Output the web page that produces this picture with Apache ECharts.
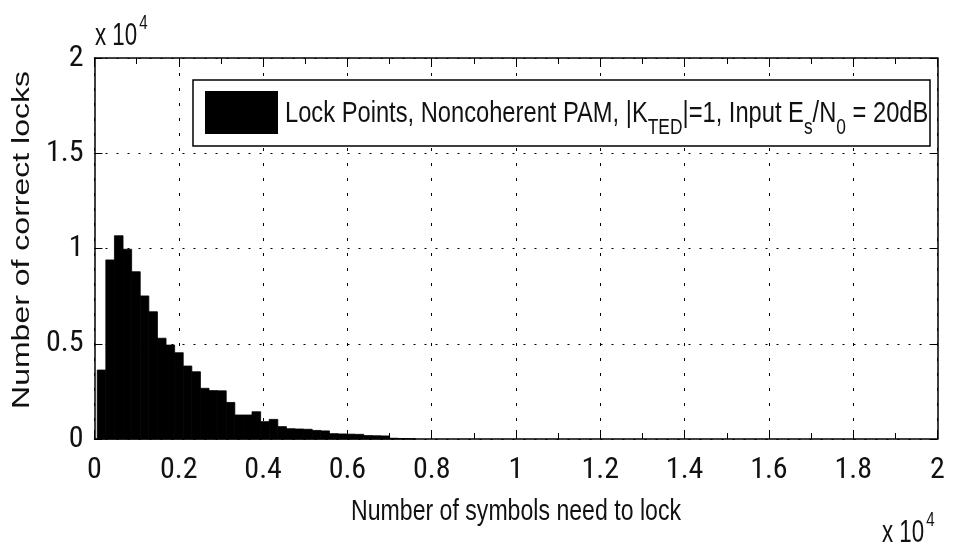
<!DOCTYPE html>
<html>
<head>
<meta charset="utf-8">
<title>Lock points histogram</title>
<script src="https://cdn.jsdelivr.net/npm/echarts@6/dist/echarts.min.js"></script>
<style>
  html, body { margin: 0; padding: 0; background: #ffffff; }
  #chart { width: 959px; height: 547px; }
</style>
</head>
<body>
<div id="chart"></div>
<script>
// Histogram of symbols needed to reach lock (counts per bin)
const binStart = 65;      // left edge of the first bin, in symbols
const binWidth = 204;     // bin width, in symbols
const lockCounts = [
  3620, 9400, 10670, 9960, 8780, 7510, 6680, 5290, 4930, 4530,
  3830, 3530, 2660, 2540, 2530, 1920, 1260, 1260, 1430, 910,
  1030, 650, 540, 525, 510, 450, 425, 280, 265, 255,
  245, 180, 170, 160, 40, 25, 15
];
const xTickLabels = ['0', '0.2', '0.4', '0.6', '0.8', '1', '1.2', '1.4', '1.6', '1.8', '2'];
const yTickLabels = ['0', '0.5', '1', '1.5', '2'];
const seriesName = 'Lock Points, Noncoherent PAM, |K_TED|=1, Input E_s/N_0 = 20dB';
const xTitle = 'Number of symbols need to lock';
const yTitle = 'Number of correct locks';

const condensed = "'Roboto Condensed', 'DejaVu Sans Condensed', 'Liberation Sans', Arial, sans-serif";
const helv = "'Liberation Sans', Arial, sans-serif";
const squeeze = 0.77;     // narrow lettering of the labels

const bins = lockCounts.map((c, i) => [binStart + i * binWidth, binStart + (i + 1) * binWidth, c]);

const frame = { color: '#000', width: 1.5 };
const tickStyle = { color: '#000', width: 1 };

// "x 10^4" exponent marker
function exponentText(x, y) {
  return {
    type: 'text', x: x, y: y, scaleX: 0.72,
    style: {
      text: '{a|x 10}{b|4}',
      verticalAlign: 'top',
      rich: {
        a: { fontSize: 31, fontFamily: helv, fill: '#111', lineHeight: 32, padding: [12, 0, 0, 0] },
        b: { fontSize: 21, fontFamily: helv, fill: '#111', lineHeight: 22, padding: [0, 0, 14, 3] }
      }
    }
  };
}

const chart = echarts.init(document.getElementById('chart'), null, { renderer: 'canvas' });
chart.setOption({
  animation: false,
  backgroundColor: '#ffffff',
  textStyle: { fontFamily: condensed, color: '#111' },
  grid: { left: 94.5, right: 21.5, top: 58, bottom: 108, containLabel: false, outerBoundsMode: 'none' },
  xAxis: [
    {
      type: 'value', min: 0, max: 20000, interval: 2000, position: 'bottom',
      axisLine: { show: true, onZero: false, lineStyle: frame },
      axisTick: { show: true, inside: true, length: 9, lineStyle: tickStyle },
      minorTick: { show: true, splitNumber: 2, length: 6, lineStyle: tickStyle },
      splitLine: { show: true, lineStyle: { color: '#000', width: 1, type: [3, 12] } },
      axisLabel: { fontSize: 30, color: '#111', margin: 16, fontFamily: condensed,
                   formatter: v => xTickLabels[Math.round(v / 2000)] }
    },
    {
      type: 'value', min: 0, max: 20000, interval: 2000, position: 'top',
      axisLine: { show: true, onZero: false, lineStyle: frame },
      axisTick: { show: true, inside: true, length: 9, lineStyle: tickStyle },
      minorTick: { show: true, splitNumber: 2, length: 6, lineStyle: tickStyle },
      splitLine: { show: false },
      axisLabel: { show: false }
    }
  ],
  yAxis: [
    {
      type: 'value', min: 0, max: 20000, interval: 5000, position: 'left',
      axisLine: { show: true, onZero: false, lineStyle: frame },
      axisTick: { show: true, inside: true, length: 8, lineStyle: tickStyle },
      splitLine: { show: true, lineStyle: { color: '#000', width: 1, type: [2, 9] } },
      axisLabel: { fontSize: 30, color: '#111', margin: 11, fontFamily: condensed,
                   formatter: v => yTickLabels[Math.round(v / 5000)] }
    },
    {
      type: 'value', min: 0, max: 20000, interval: 5000, position: 'right',
      axisLine: { show: true, onZero: false, lineStyle: frame },
      axisTick: { show: true, inside: true, length: 8, lineStyle: tickStyle },
      splitLine: { show: false },
      axisLabel: { show: false }
    }
  ],
  series: [
    {
      name: seriesName,
      type: 'custom',
      xAxisIndex: 0, yAxisIndex: 0,
      color: '#000',
      itemStyle: { color: '#000' },
      encode: { x: [0, 1], y: 2 },
      data: bins,
      renderItem: (params, api) => {
        const top = api.coord([api.value(0), api.value(2)]);
        const base = api.coord([api.value(1), 0]);
        return {
          type: 'rect',
          shape: { x: top[0], y: top[1], width: base[0] - top[0], height: base[1] - top[1] },
          style: { fill: '#000', stroke: '#000', lineWidth: 0.8 }
        };
      }
    }
  ],
  graphic: [
    // legend box with swatch and label
    { type: 'rect', z: 100, shape: { x: 193, y: 80, width: 737, height: 66 },
      style: { fill: '#fff', stroke: '#000', lineWidth: 1.5 } },
    { type: 'rect', z: 101, shape: { x: 205, y: 91, width: 73, height: 43 }, style: { fill: '#000' } },
    {
      type: 'text', z: 101, x: 285, y: 114, scaleX: 0.79,
      style: {
        text: '{a|Lock Points, Noncoherent PAM, |K}{s|TED}{a||=1, Input E}{s|s}{a|/N}{s|0}{a| = 20dB}',
        verticalAlign: 'middle',
        rich: {
          a: { fontSize: 30, fill: '#111', fontFamily: helv, lineHeight: 34 },
          s: { fontSize: 22, fill: '#111', fontFamily: helv, lineHeight: 24, padding: [28, 0, 0, 0] }
        }
      }
    },
    // axis titles
    {
      type: 'text', x: 516, y: 512, scaleX: squeeze,
      style: { text: xTitle, fontSize: 30, fontFamily: helv, fill: '#111', align: 'center', verticalAlign: 'middle' }
    },
    {
      type: 'text', x: 22, y: 240, rotation: Math.PI / 2, scaleY: squeeze,
      style: { text: yTitle, fontSize: 32, fontFamily: helv, fill: '#111', align: 'center', verticalAlign: 'middle' }
    },
    exponentText(95, 14),
    exponentText(882, 511)
  ]
});
</script>
</body>
</html>
